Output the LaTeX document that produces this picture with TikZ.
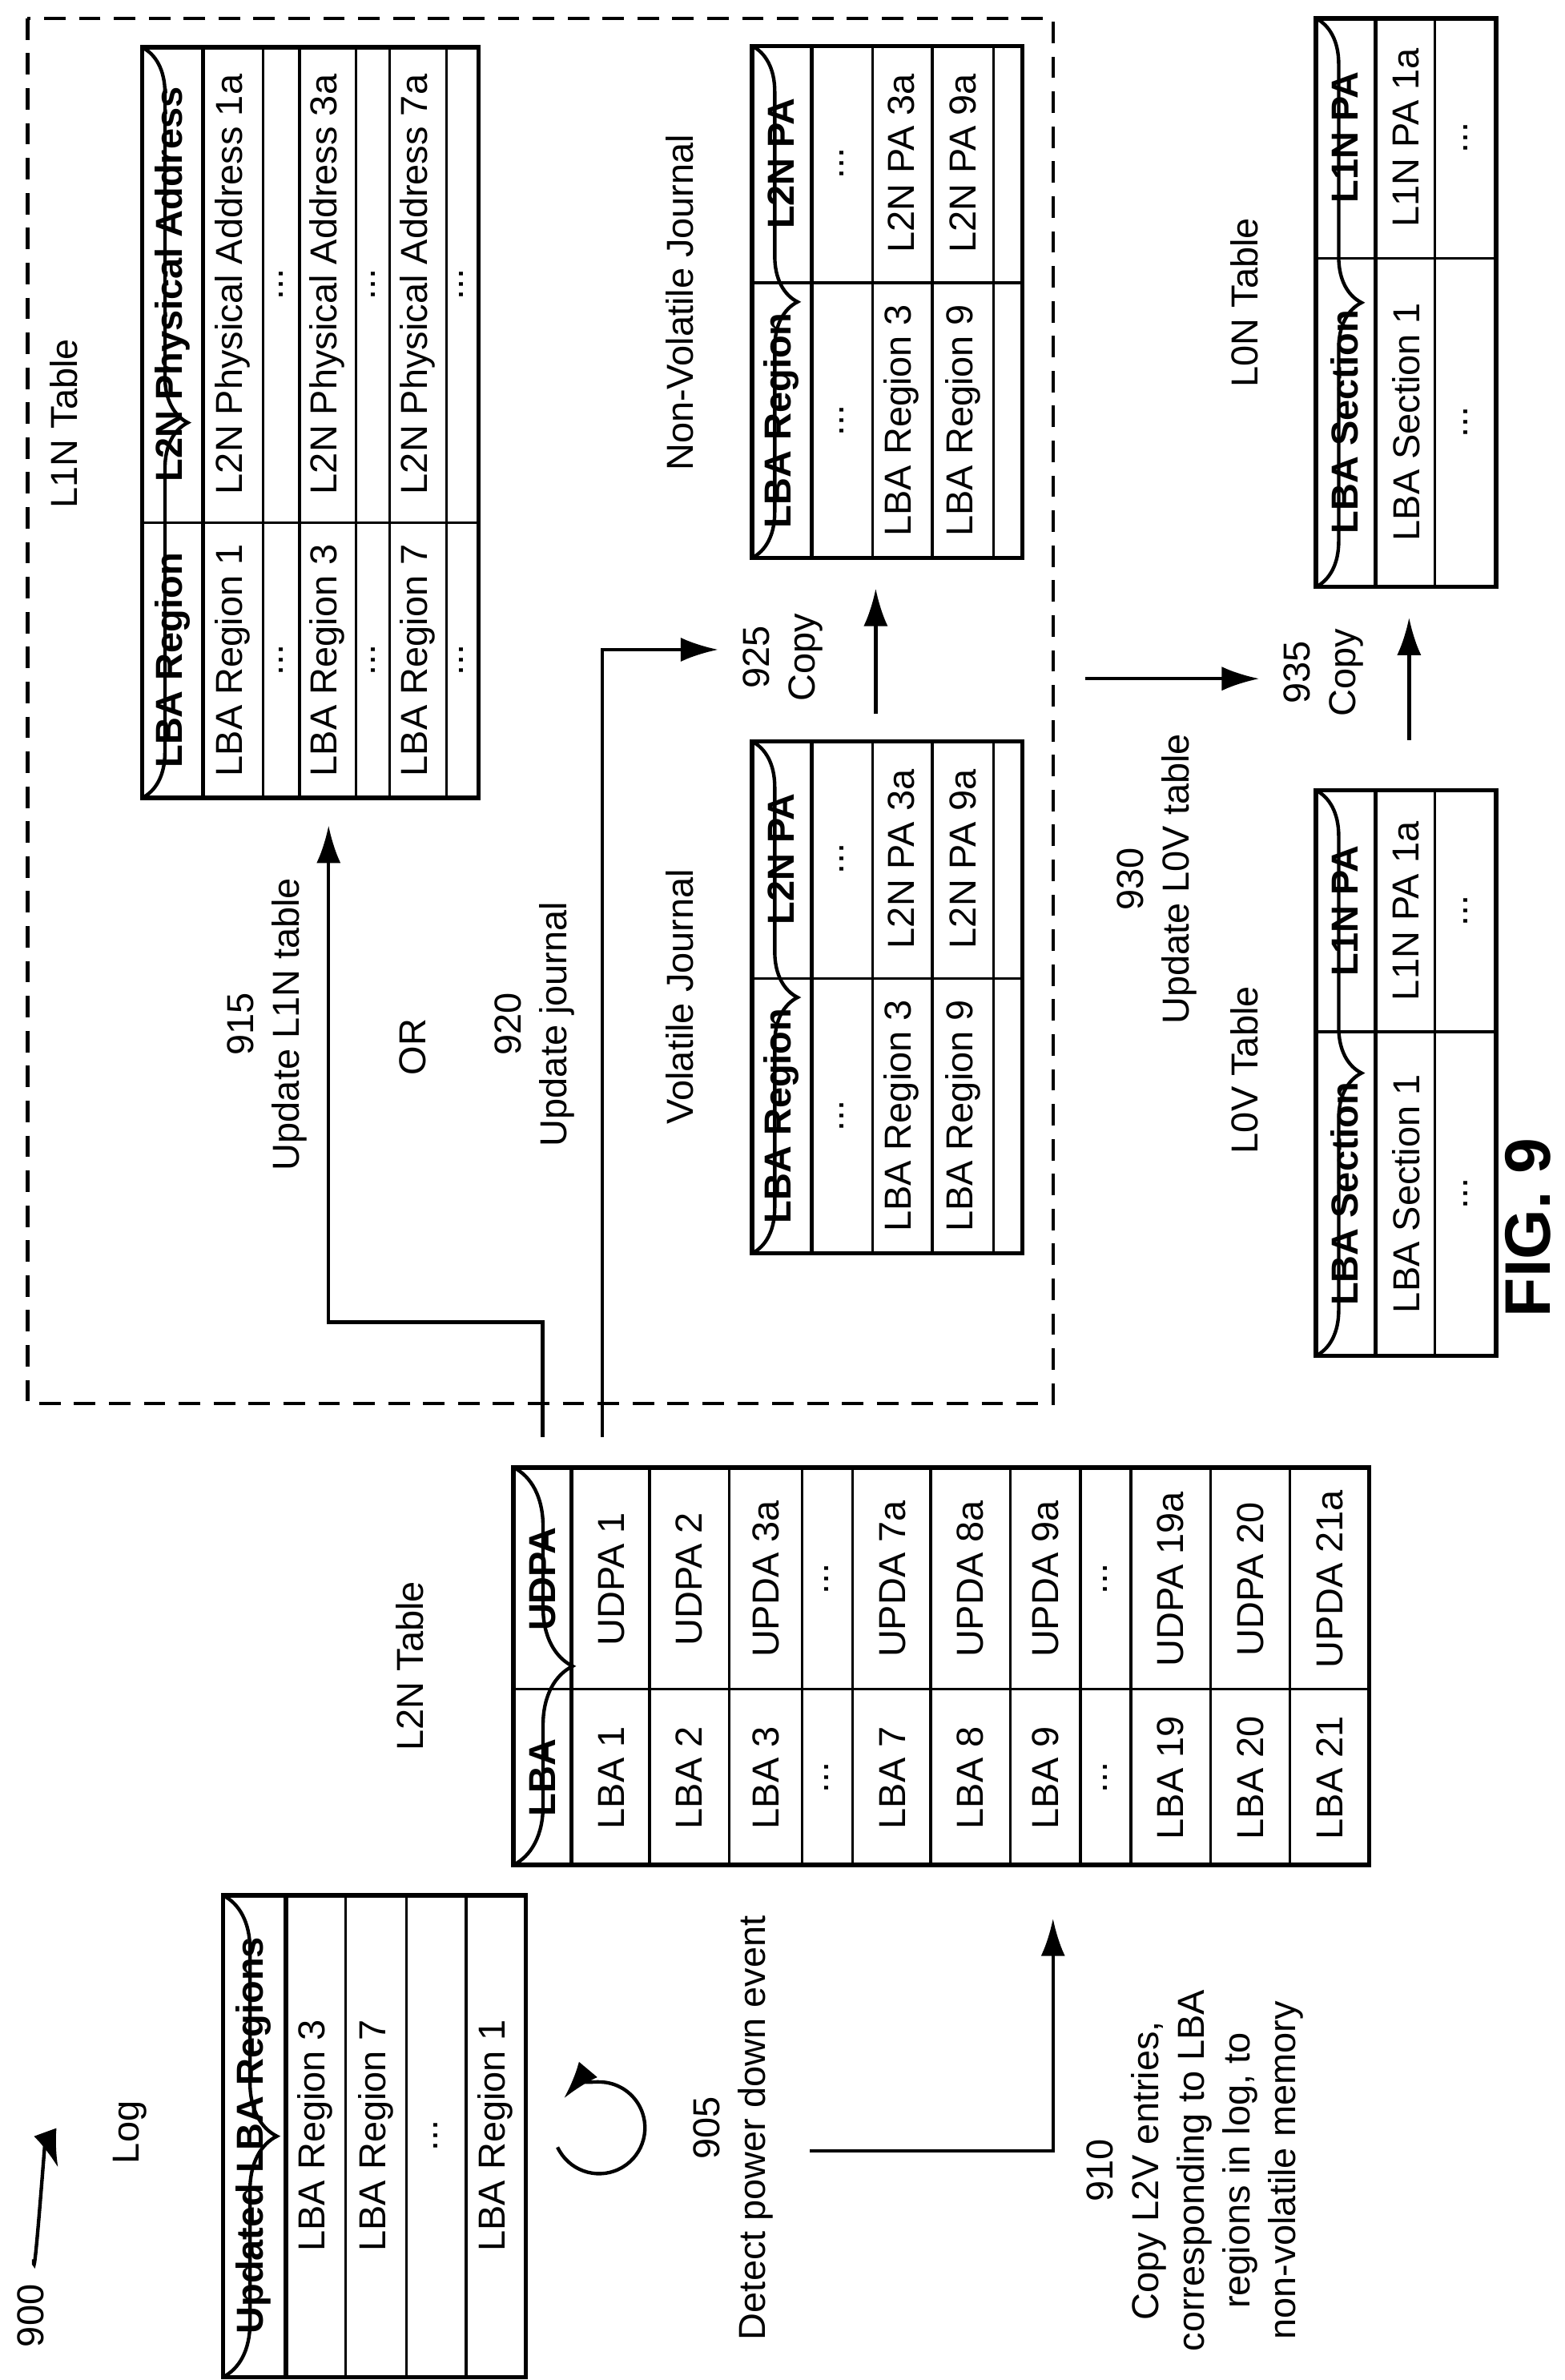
\documentclass[tikz,border=0pt]{standalone}
\usepackage{fontspec}
\setmainfont{Liberation Sans}
\usetikzlibrary{arrows.meta,decorations.pathreplacing}
\newcommand\skipd{...}
\tikzset{
  tbl/.style={line width=1.6pt},
  hdl/.style={line width=1.6pt},
  grid/.style={line width=1pt},
  cell/.style={inner sep=0pt, font=\fontsize{14}{17}\selectfont},
  hd/.style={cell, font=\fontsize{14}{17}\selectfont\bfseries},
  lbl/.style={align=center, inner sep=0pt, font=\fontsize{14}{17}\selectfont},
  arr/.style={line width=1.3pt, -{Latex[length=14pt,width=9pt]}},
  brc/.style={line width=1.3pt, decorate, decoration={brace, amplitude=#1}},
  brc/.default=17pt,
}
\begin{document}
\begin{tikzpicture}[x=0.02cm, y=-0.02cm, every node/.style={rotate=90}]
  \useasboundingbox (0,0) rectangle (1024,1557);

  % reference label and loop
  \node[lbl] (fig) at (20,1515) {900};
  \draw[arr] (22,1478) to[out=-90, in=110] (38,1418);
  \draw[arr] (392,1392) ++(-205:30) arc[start angle=-205, end angle=-500, radius=30];

  % log
  \node[lbl] (loglbl) at (85,1395) {Log};
  \draw[brc=20pt] (146,1240) -- (146,1555);
  \draw[tbl] (146,1240) rectangle (344,1555);
  \draw[hdl] (187,1240) -- (187,1555);
  \foreach \x in {226,266,305} \draw[grid] (\x,1240) -- (\x,1555);
  \node[hd] (loghd) at (166,1397) {Updated LBA Regions};
  \foreach \x/\t [count=\i] in {206/LBA Region 3, 246/LBA Region 7, 285/\skipd, 324/LBA Region 1}
    \node[cell] (log\i) at (\x,1397) {\t};

  % steps 905, 910
  \node[lbl] (s905) at (480,1392) {905\\Detect power down event};
  \node[lbl] (s910) at (782,1420) {910\\Copy L2V entries,\\corresponding to LBA\\regions in log, to\\non-volatile memory};
  \coordinate (a905) at (530,1407);
  \coordinate (b905) at (689,1255);
  \draw[arr] (a905) -| (b905);

  % L2N table
  \node[lbl] (l2nlbl) at (268,1090) {L2N Table};
  \draw[brc=22pt] (336,960) -- (336,1220);
  \draw[tbl] (336,960) rectangle (896,1220);
  \draw[hdl] (374,960) -- (374,1220);
  \draw[grid] (336,1105) -- (896,1105);
  \foreach \x in {425,477,525,558,609,661,707,740,792,844} \draw[grid] (\x,960) -- (\x,1220);
  \node[hd] (l2nh1) at (355,1163) {LBA};
  \node[hd] (l2nh2) at (355,1033) {UDPA};
  \foreach \x/\a/\b [count=\i] in {400/LBA 1/UDPA 1, 451/LBA 2/UDPA 2, 501/LBA 3/UPDA 3a, 541/\skipd/\skipd,
      584/LBA 7/UPDA 7a, 635/LBA 8/UPDA 8a, 684/LBA 9/UPDA 9a, 723/\skipd/\skipd, 766/LBA 19/UDPA 19a,
      818/LBA 20/UDPA 20, 870/LBA 21/UPDA 21a} {
    \node[cell] (l2na\i) at (\x,1163) {\a};
    \node[cell] (l2nb\i) at (\x,1033) {\b};
  }

  % dashed region
  \draw[line width=1.3pt, dash pattern=on 8pt off 5pt] (18,12) rectangle (689,918);

  % steps 915, 920
  \node[lbl] (s915) at (175,670) {915\\Update L1N table};
  \node[lbl] (sor) at (270,685) {OR};
  \node[lbl] (s920) at (350,670) {920\\Update journal};
  \coordinate (a915) at (355,940);
  \coordinate (m915) at (355,865);
  \coordinate (b915) at (215,540);
  \draw[arr] (a915) -- (m915) -| (b915);
  \coordinate (a920) at (394,940);
  \coordinate (b920) at (470,425);
  \draw[arr] (a920) |- (b920);

  % L1N table
  \node[lbl] (l1nlbl) at (42,277) {L1N Table};
  \draw[brc] (93,31) -- (93,522);
  \draw[tbl] (93,31) rectangle (313,522);
  \draw[hdl] (133,31) -- (133,522);
  \draw[grid] (93,342) -- (313,342);
  \foreach \x in {172,196,233,255,292} \draw[grid] (\x,31) -- (\x,522);
  \node[hd] (l1nh1) at (113,432) {LBA Region};
  \node[hd] (l1nh2) at (113,186) {L2N Physical Address};
  \foreach \x/\a/\b [count=\i] in {152/LBA Region 1/L2N Physical Address 1a, 184/\skipd/\skipd,
      214/LBA Region 3/L2N Physical Address 3a, 244/\skipd/\skipd, 273/LBA Region 7/L2N Physical Address 7a,
      302/\skipd/\skipd} {
    \node[cell] (l1na\i) at (\x,432) {\a};
    \node[cell] (l1nb\i) at (\x,186) {\b};
  }

  % non-volatile journal
  \node[lbl] (nvjlbl) at (445,198) {Non-Volatile Journal};
  \draw[brc] (492,30) -- (492,365);
  \draw[tbl] (492,30) rectangle (669,365);
  \draw[hdl] (531,30) -- (531,365);
  \draw[grid] (492,185) -- (669,185);
  \foreach \x in {571,610,650} \draw[grid] (\x,30) -- (\x,365);
  \node[hd] (nvjh1) at (511,275) {LBA Region};
  \node[hd] (nvjh2) at (511,107) {L2N PA};
  \foreach \x/\a/\b [count=\i] in {551/\skipd/\skipd, 590/LBA Region 3/L2N PA 3a, 630/LBA Region 9/L2N PA 9a} {
    \node[cell] (nvja\i) at (\x,275) {\a};
    \node[cell] (nvjb\i) at (\x,107) {\b};
  }

  % volatile journal
  \node[lbl] (vjlbl) at (445,652) {Volatile Journal};
  \draw[brc] (492,485) -- (492,820);
  \draw[tbl] (492,485) rectangle (669,820);
  \draw[hdl] (531,485) -- (531,820);
  \draw[grid] (492,640) -- (669,640);
  \foreach \x in {571,610,650} \draw[grid] (\x,485) -- (\x,820);
  \node[hd] (vjh1) at (511,730) {LBA Region};
  \node[hd] (vjh2) at (511,562) {L2N PA};
  \foreach \x/\a/\b [count=\i] in {551/\skipd/\skipd, 590/LBA Region 3/L2N PA 3a, 630/LBA Region 9/L2N PA 9a} {
    \node[cell] (vja\i) at (\x,730) {\a};
    \node[cell] (vjb\i) at (\x,562) {\b};
  }

  % steps 925, 930, 935
  \node[lbl] (s925) at (512,430) {925\\Copy};
  \coordinate (a925) at (573,467);
  \coordinate (b925) at (573,385);
  \draw[arr] (a925) -- (b925);
  \node[lbl] (s930) at (757,575) {930\\Update L0V table};
  \coordinate (a930) at (710,444);
  \coordinate (b930) at (824,444);
  \draw[arr] (a930) -- (b930);
  \node[lbl] (s935) at (866,440) {935\\Copy};
  \coordinate (a935) at (922,484);
  \coordinate (b935) at (922,404);
  \draw[arr] (a935) -- (b935);

  % L0N table
  \node[lbl] (l0nlbl) at (814,198) {L0N Table};
  \draw[brc] (861,12) -- (861,384);
  \draw[tbl] (861,12) rectangle (979,384);
  \draw[hdl] (900,12) -- (900,384);
  \draw[grid] (861,169) -- (979,169);
  \draw[grid] (939,12) -- (939,384);
  \node[hd] (l0nh1) at (880,276) {LBA Section};
  \node[hd] (l0nh2) at (880,90) {L1N PA};
  \node[cell] (l0na1) at (920,276) {LBA Section 1};
  \node[cell] (l0nb1) at (920,90) {L1N PA 1a};
  \node[cell] (l0na2) at (959,276) {\skipd};
  \node[cell] (l0nb2) at (959,90) {\skipd};

  % L0V table
  \node[lbl] (l0vlbl) at (814,700) {L0V Table};
  \draw[brc] (861,517) -- (861,887);
  \draw[tbl] (861,517) rectangle (979,887);
  \draw[hdl] (900,517) -- (900,887);
  \draw[grid] (861,675) -- (979,675);
  \draw[grid] (939,517) -- (939,887);
  \node[hd] (l0vh1) at (880,781) {LBA Section};
  \node[hd] (l0vh2) at (880,596) {L1N PA};
  \node[cell] (l0va1) at (920,781) {LBA Section 1};
  \node[cell] (l0vb1) at (920,596) {L1N PA 1a};
  \node[cell] (l0va2) at (959,781) {\skipd};
  \node[cell] (l0vb2) at (959,596) {\skipd};

  \node[inner sep=0pt, font=\fontsize{24}{28}\selectfont\bfseries] (figlbl) at (1000,803) {FIG. 9};
\end{tikzpicture}
\end{document}
